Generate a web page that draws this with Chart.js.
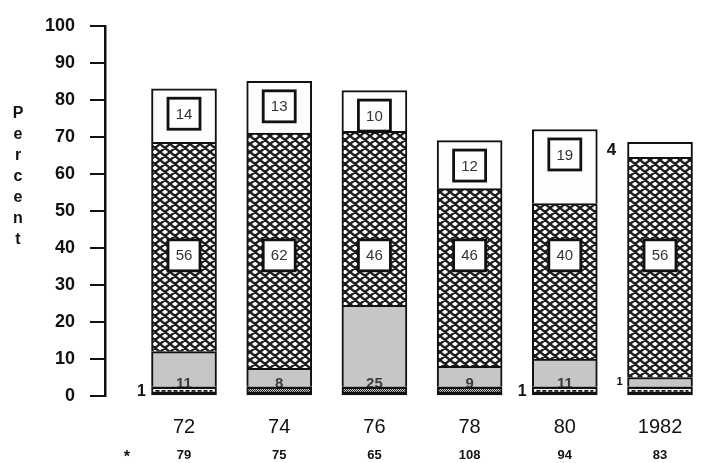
<!DOCTYPE html>
<html>
<head>
<meta charset="utf-8">
<script src="https://cdn.jsdelivr.net/npm/chart.js@4/dist/chart.umd.min.js"></script>
<style>
  body { margin: 0; background: #fff; }
  canvas { display: block; }
</style>
</head>
<body>
<canvas id="chart" width="704" height="463"></canvas>
<script>
// Данные (проценты по сегментам, снизу вверх)
const years = ['72', '74', '76', '78', '80', '1982'];
const counts = ['79', '75', '65', '108', '94', '83'];
const bandPct = [2.5, 2.5, 2.5, 2.5, 2.5, 2.5];
const grayPct = [9.5, 5, 22, 5.5, 7.5, 2.5];
const crossPct = [56.5, 63.5, 47, 48, 42, 59.5];
const openPct = [14.5, 14, 11, 13, 20, 4];

// Подписи, напечатанные на графике
const bandText = ['1', '', '', '', '1', ''];
const grayText = ['11', '8', '25', '9', '11', ''];
const graySide = ['', '', '', '', '', '1'];
const crossText = ['56', '62', '46', '46', '40', '56'];
const openText = ['14', '13', '10', '12', '19', '4'];
const axisTitle = 'Percent';

const crossLabelAt = 38;   // уровень, на котором стоят рамки в штриховке
const starAt = -0.6;       // позиция звёздочки в строке чисел
const stippled = [false, true, true, true, false, false];

const FONT = '"Liberation Sans", Arial, sans-serif';
Chart.defaults.font.family = FONT;
Chart.defaults.color = '#111';

function crossHatch() {
    const c = document.createElement('canvas');
    c.width = 10; c.height = 8;
    const g = c.getContext('2d');
    g.fillStyle = '#fafafa';
    g.fillRect(0, 0, 10, 8);
    g.strokeStyle = '#1c1c1c';
    g.lineWidth = 2.3;
    g.beginPath();
    for (const dx of [-10, 0, 10]) {
        g.moveTo(dx, 0); g.lineTo(dx + 10, 8);
        g.moveTo(dx + 10, 0); g.lineTo(dx, 8);
    }
    g.stroke();
    return g.createPattern(c, 'repeat');
}

function stipple() {
    const c = document.createElement('canvas');
    c.width = 2; c.height = 2;
    const g = c.getContext('2d');
    g.fillStyle = '#c8c8c8';
    g.fillRect(0, 0, 2, 2);
    g.fillStyle = '#2a2a2a';
    g.fillRect(0, 0, 1, 1);
    g.fillRect(1, 1, 1, 1);
    return g.createPattern(c, 'repeat');
}

const ctx = document.getElementById('chart').getContext('2d');
const hatch = crossHatch();
const dots = stipple();

const pts = arr => arr.map((v, i) => ({ x: i, y: v }));
const side = { left: 2, right: 2, top: 2, bottom: 0 };

function boxLabel(c, cx, cy, text) {
    c.fillStyle = '#fff';
    c.fillRect(cx - 16, cy - 15.5, 32, 31);
    c.lineWidth = 2.8;
    c.strokeStyle = '#111';
    c.strokeRect(cx - 16, cy - 15.5, 32, 31);
    c.fillStyle = '#333';
    c.font = '15px ' + FONT;
    c.textAlign = 'center';
    c.textBaseline = 'middle';
    c.fillText(text, cx, cy + 1);
}

const labels = {
    id: 'labels',
    afterDatasetDraw(chart, args) {
        const c = chart.ctx;
        c.save();
        if (args.index === 1) {
            // серые числа, нижняя часть закрыта полосой
            args.meta.data.forEach((el, i) => {
                c.fillStyle = '#3c3c3c';
                c.font = 'bold 15px ' + FONT;
                c.textAlign = 'center';
                c.textBaseline = 'middle';
                c.fillText(grayText[i], el.x, el.base - 3);
                if (graySide[i]) {
                    c.fillStyle = '#111';
                    c.font = 'bold 11px ' + FONT;
                    c.fillText(graySide[i], el.x - el.width / 2 - 8, (el.y + el.base) / 2);
                }
            });
        }
        if (args.index === 0) {
            args.meta.data.forEach((el, i) => {
                if (!stippled[i]) {
                    c.strokeStyle = '#111';
                    c.lineWidth = 1.8;
                    c.setLineDash([4, 2]);
                    c.beginPath();
                    const yy = (el.y + el.base) / 2;
                    c.moveTo(el.x - el.width / 2 + 4, yy);
                    c.lineTo(el.x + el.width / 2 - 4, yy);
                    c.stroke();
                    c.setLineDash([]);
                }
                if (bandText[i]) {
                    c.fillStyle = '#111';
                    c.font = 'bold 16px ' + FONT;
                    c.textAlign = 'center';
                    c.textBaseline = 'middle';
                    c.fillText(bandText[i], el.x - el.width / 2 - 10, (el.y + el.base) / 2 + 1);
                }
            });
        }
        c.restore();
    },
    afterDatasetsDraw(chart) {
        const c = chart.ctx;
        const y = chart.scales.y;
        c.save();
        chart.getDatasetMeta(2).data.forEach((el, i) => {
            boxLabel(c, el.x, y.getPixelForValue(crossLabelAt), crossText[i]);
        });
        chart.getDatasetMeta(3).data.forEach((el, i) => {
            if (el.base - el.y > 34) {
                boxLabel(c, el.x, el.y + 25, openText[i]);
            } else {
                c.fillStyle = '#111';
                c.font = 'bold 17px ' + FONT;
                c.textAlign = 'center';
                c.textBaseline = 'middle';
                c.fillText(openText[i], el.x - el.width / 2 - 16, (el.y + el.base) / 2);
            }
        });
        // вертикальная подпись оси
        c.fillStyle = '#111';
        c.font = 'bold 16px ' + FONT;
        c.textAlign = 'center';
        c.textBaseline = 'middle';
        axisTitle.split('').forEach((ch, k) => c.fillText(ch, 18, 114 + k * 21));
        c.restore();
    }
};

new Chart(ctx, {
    type: 'bar',
    data: {
        datasets: [{
            label: 'band',
            data: pts(bandPct),
            backgroundColor: stippled.map(s => s ? dots : '#fff'),
            borderWidth: { left: 2, right: 2, top: 2.5, bottom: 3.5 }
        }, {
            label: 'gray',
            data: pts(grayPct),
            backgroundColor: '#c6c6c4',
            borderWidth: side
        }, {
            label: 'cross',
            data: pts(crossPct),
            backgroundColor: hatch,
            borderWidth: side
        }, {
            label: 'open',
            data: pts(openPct),
            backgroundColor: '#fdfdfd',
            borderWidth: side
        }].map(d => Object.assign(d, {
            stack: 'all',
            borderColor: '#111',
            borderSkipped: false,
            barThickness: 65
        }))
    },
    options: {
        responsive: false,
        animation: false,
        devicePixelRatio: 1,
        layout: { padding: { left: 0, right: 4, top: 16, bottom: 0 } },
        plugins: { legend: { display: false }, tooltip: { enabled: false } },
        scales: {
            x: {
                type: 'linear', position: 'bottom', weight: 0,
                min: -0.83, max: 5.42, offset: false, bounds: 'data',
                grid: { display: false, drawTicks: false },
                border: { display: false },
                afterBuildTicks: s => { s.ticks = years.map((_, i) => ({ value: i })); },
                afterFit: s => { s.height = 45; },
                ticks: {
                    autoSkip: false, maxRotation: 0, padding: 19,
                    font: { size: 20 },
                    callback: v => years[v]
                }
            },
            n: {
                type: 'linear', position: 'bottom', weight: 1,
                min: -0.83, max: 5.42, offset: false, bounds: 'data',
                grid: { display: false, drawTicks: false },
                border: { display: false },
                afterBuildTicks: s => {
                    s.ticks = [{ value: starAt }].concat(counts.map((_, i) => ({ value: i })));
                },
                afterFit: s => { s.height = 22; },
                ticks: {
                    autoSkip: false, maxRotation: 0, padding: 7,
                    font: c => c.tick && c.tick.value === starAt
                        ? { size: 16, weight: 'bold' }
                        : { size: 13, weight: 'bold' },
                    callback: v => v === starAt ? '*' : counts[v]
                }
            },
            y: {
                stacked: true,
                min: 0, max: 100,
                afterFit: s => { s.width = 105; },
                grid: { drawOnChartArea: false, drawTicks: true, tickLength: 15, color: '#111', lineWidth: 2 },
                border: { display: true, color: '#111', width: 2.5 },
                ticks: { stepSize: 10, padding: 15, font: { size: 18, weight: 'bold' } }
            }
        }
    },
    plugins: [labels]
});
</script>
</body>
</html>
